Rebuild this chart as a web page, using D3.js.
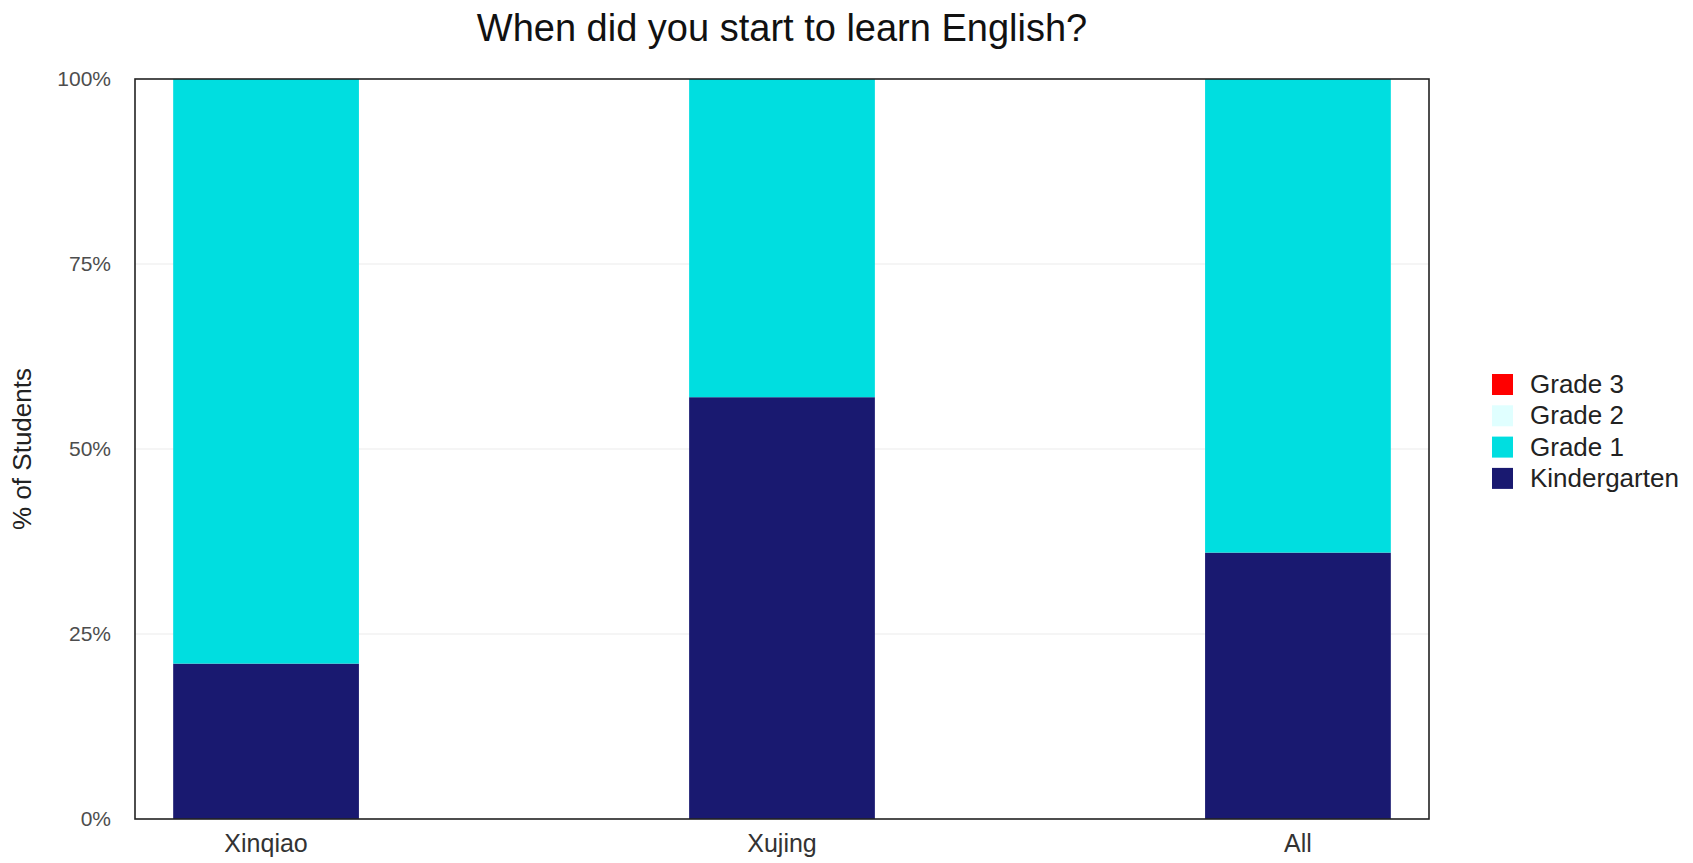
<!DOCTYPE html>
<html>
<head>
<meta charset="utf-8">
<script src="https://cdn.jsdelivr.net/npm/d3@7"></script>
<style>
  body { margin: 0; background: #fff; }
  text { font-family: "Liberation Sans", Arial, sans-serif; }
</style>
</head>
<body>
<svg id="chart"></svg>
<script>
// Schools along the x axis
var schools = ["Xinqiao", "Xujing", "All"];

// Answer groups, bottom of the stack first
var groups = ["Kindergarten", "Grade 1", "Grade 2", "Grade 3"];

// Share of students (%) per school, one array per group
var kindergarten = [21, 57, 36];
var grade1 = [79, 43, 64];
var grade2 = [0, 0, 0];
var grade3 = [0, 0, 0];

var yTicks = [0, 0.25, 0.5, 0.75, 1];

var colours = {
  "Kindergarten": "#191970",
  "Grade 1": "#00dee0",
  "Grade 2": "#e0ffff",
  "Grade 3": "#ff0000"
};

// build rows for d3.stack
var rows = schools.map(function(s, i) {
  return {
    school: s,
    "Kindergarten": kindergarten[i],
    "Grade 1": grade1[i],
    "Grade 2": grade2[i],
    "Grade 3": grade3[i]
  };
});

var width = 1693, height = 863;
var margin = { top: 79, right: 264, bottom: 44, left: 135 };
var innerW = width - margin.left - margin.right,
  innerH = height - margin.top - margin.bottom;

var svg = d3.select("#chart")
  .attr("width", width)
  .attr("height", height);

var g = svg.append("g")
  .attr("transform", "translate(" + margin.left + "," + margin.top + ")");

var x = d3.scaleBand()
  .domain(schools)
  .range([0, innerW])
  .paddingInner(0.64)
  .paddingOuter(0.074);

var y = d3.scaleLinear()
  .domain([0, 1])
  .range([innerH, 0]);

// grid lines
g.selectAll(".grid")
  .data(yTicks.slice(1, -1))
  .enter().append("line")
  .attr("class", "grid")
  .attr("x1", 0)
  .attr("x2", innerW)
  .attr("y1", function(d) { return y(d); })
  .attr("y2", function(d) { return y(d); })
  .attr("stroke", "#ebebeb")
  .attr("stroke-width", 1.2);

// stacked bars, normalised to 100%
var stack = d3.stack().keys(groups).offset(d3.stackOffsetExpand);
var series = stack(rows);

g.selectAll(".layer")
  .data(series)
  .enter().append("g")
  .attr("class", "layer")
  .attr("fill", function(d) { return colours[d.key]; })
  .selectAll("rect")
  .data(function(d) { return d; })
  .enter().append("rect")
  .attr("x", function(d) { return x(d.data.school); })
  .attr("width", x.bandwidth())
  .attr("y", function(d) { return y(d[1]); })
  .attr("height", function(d) { return y(d[0]) - y(d[1]); });

// panel border
g.append("rect")
  .attr("x", 0)
  .attr("y", 0)
  .attr("width", innerW)
  .attr("height", innerH)
  .attr("fill", "none")
  .attr("stroke", "#222")
  .attr("stroke-width", 1.6);

// y axis
var yAxis = g.append("g")
  .call(d3.axisLeft(y).tickValues(yTicks).tickFormat(d3.format(".0%")).tickSize(0).tickPadding(24));
yAxis.select(".domain").remove();
yAxis.selectAll("text")
  .attr("font-size", 21)
  .attr("fill", "#4d4d4d")
  .style("font-family", "'Liberation Sans', Arial, sans-serif");

// x axis
var xAxis = g.append("g")
  .attr("transform", "translate(0," + innerH + ")")
  .call(d3.axisBottom(x).tickSize(0).tickPadding(15));
xAxis.select(".domain").remove();
xAxis.selectAll("text")
  .attr("font-size", 25)
  .attr("fill", "#333")
  .style("font-family", "'Liberation Sans', Arial, sans-serif");

// y label
svg.append("text")
  .attr("transform", "translate(31," + (margin.top + innerH / 2) + ") rotate(-90)")
  .attr("text-anchor", "middle")
  .attr("font-size", 26)
  .attr("fill", "#222")
  .text("% of Students");

// title
svg.append("text")
  .attr("x", margin.left + innerW / 2)
  .attr("y", 41)
  .attr("text-anchor", "middle")
  .attr("font-size", 38)
  .attr("fill", "#111")
  .text("When did you start to learn English?");

// legend, top entry is the top of the stack
var legend = svg.append("g")
  .attr("transform", "translate(1492,374)");

var item = legend.selectAll(".key")
  .data(groups.slice().reverse())
  .enter().append("g")
  .attr("class", "key")
  .attr("transform", function(d, i) { return "translate(0," + i * 31.3 + ")"; });

item.append("rect")
  .attr("width", 21)
  .attr("height", 21)
  .attr("fill", function(d) { return colours[d]; });

item.append("text")
  .attr("x", 38)
  .attr("y", 19)
  .attr("font-size", 26)
  .attr("fill", "#222")
  .text(function(d) { return d; });
</script>
</body>
</html>
